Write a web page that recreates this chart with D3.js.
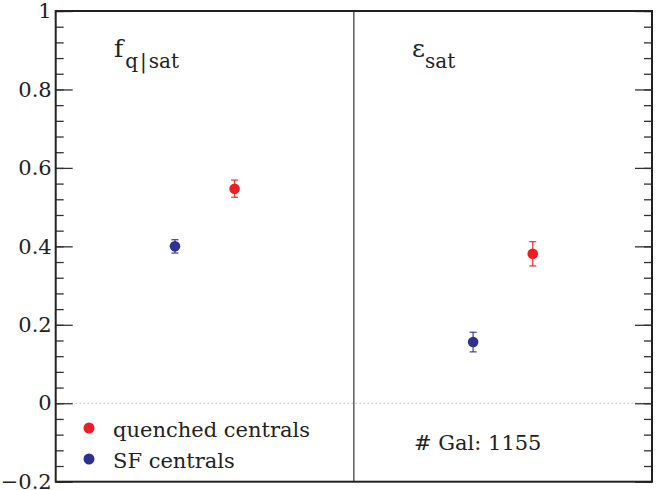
<!DOCTYPE html>
<html>
<head>
<meta charset="utf-8">
<script src="https://cdn.jsdelivr.net/npm/d3@7/dist/d3.min.js"></script>
<style>
  html, body { margin: 0; padding: 0; background: #fff; }
  svg { display: block; }
  text { font-family: "DejaVu Serif", serif; fill: #222; }
</style>
</head>
<body>
<svg id="chart" width="657" height="490"></svg>
<script>
// ---- data ----
const panels = ["fq", "esat"];
const seriesNames = ["quenched centrals", "SF centrals"];
const seriesColors = ["#ee1d24", "#2e3192"];
const seriesX = [0.6, 0.4];              // position inside each panel (0..1)
const quenchedValues = [0.547, 0.381];
const quenchedErrors = [0.022, 0.031];
const sfValues = [0.400, 0.156];
const sfErrors = [0.017, 0.025];
const majorTicks = [-0.2, 0, 0.2, 0.4, 0.6, 0.8, 1];
const minorTicks = d3.range(-0.2, 1.0001, 0.04).map(v => +v.toFixed(2));
const galCount = 1155;

// ---- layout ----
const svg = d3.select("#chart");
const mLeft = 55.7, mRight = 652, mTop = 11, mBottom = 481.7;

const y = d3.scaleLinear().domain([-0.2, 1]).range([mBottom, mTop]);
const xPanel = d3.scaleBand().domain(panels).range([mLeft, mRight]).paddingInner(0).paddingOuter(0);
const xInner = d3.scaleLinear().domain([0, 1]).range([0, xPanel.bandwidth()]);

// zero dotted line
svg.append("line")
  .attr("x1", mLeft).attr("x2", mRight)
  .attr("y1", y(0)).attr("y2", y(0))
  .attr("stroke", "#999").attr("stroke-width", 1)
  .attr("stroke-dasharray", "1,3");

// panel divider
svg.append("line")
  .attr("x1", xPanel("esat")).attr("x2", xPanel("esat"))
  .attr("y1", mTop).attr("y2", mBottom)
  .attr("stroke", "#333").attr("stroke-width", 1.2);

// left axis (ticks inward, labels outside)
const leftMinor = svg.append("g").attr("transform", `translate(${mLeft},0)`)
  .call(d3.axisLeft(y).tickValues(minorTicks).tickSize(-8).tickFormat(""));
const leftMajor = svg.append("g").attr("transform", `translate(${mLeft},0)`)
  .call(d3.axisLeft(y).tickValues(majorTicks).tickSize(-17).tickPadding(4)
    .tickFormat(d => d3.format("")(+d.toFixed(1))));
// right axis (ticks inward, no labels)
const rightMinor = svg.append("g").attr("transform", `translate(${mRight},0)`)
  .call(d3.axisRight(y).tickValues(minorTicks).tickSize(-8).tickFormat(""));
const rightMajor = svg.append("g").attr("transform", `translate(${mRight},0)`)
  .call(d3.axisRight(y).tickValues(majorTicks).tickSize(-17).tickFormat(""));

[leftMinor, leftMajor, rightMinor, rightMajor].forEach(g => {
  g.select(".domain").remove();
  g.selectAll(".tick line").attr("stroke", "#333").attr("stroke-width", 1.3);
});
leftMajor.selectAll(".tick text").attr("font-size", 21).attr("fill", "#222");

// frame
svg.append("rect")
  .attr("x", mLeft).attr("y", mTop)
  .attr("width", mRight - mLeft).attr("height", mBottom - mTop)
  .attr("fill", "none").attr("stroke", "#222").attr("stroke-width", 2);

// data points
const series = [
  { name: seriesNames[0], color: seriesColors[0], xPos: seriesX[0], values: quenchedValues, errors: quenchedErrors },
  { name: seriesNames[1], color: seriesColors[1], xPos: seriesX[1], values: sfValues, errors: sfErrors }
];
series.forEach(s => {
  const g = svg.append("g");
  panels.forEach((p, i) => {
    const cx = xPanel(p) + xInner(s.xPos);
    const v = s.values[i], e = s.errors[i];
    g.append("line").attr("x1", cx).attr("x2", cx).attr("y1", y(v - e)).attr("y2", y(v + e))
      .attr("stroke", s.color).attr("stroke-width", 1.3).attr("opacity", 0.85);
    [v - e, v + e].forEach(b => {
      g.append("line").attr("x1", cx - 3.5).attr("x2", cx + 3.5).attr("y1", y(b)).attr("y2", y(b))
        .attr("stroke", s.color).attr("stroke-width", 1.3).attr("opacity", 0.85);
    });
    g.append("circle").attr("cx", cx).attr("cy", y(v)).attr("r", 5.3).attr("fill", s.color);
  });
});

// panel titles
const t1 = svg.append("text").attr("x", 114).attr("y", 57).attr("font-size", 25);
t1.append("tspan").text("f");
t1.append("tspan").attr("dx", 2).attr("dy", 11).attr("font-size", 20).text("q\u200A|\u200Asat");

const t2 = svg.append("text").attr("x", 412).attr("y", 57).attr("font-size", 25);
t2.append("tspan").text("\u03B5");
t2.append("tspan").attr("dx", 0).attr("dy", 11).attr("font-size", 20).text("sat");

// legend
const legend = svg.append("g");
series.forEach((s, i) => {
  const ly = 428 + i * 31;
  legend.append("circle").attr("cx", 89).attr("cy", ly).attr("r", 5.5).attr("fill", s.color);
  legend.append("text").attr("x", 113).attr("y", ly + 9).attr("font-size", 21).text(s.name);
});

// galaxy count
svg.append("text").attr("x", 414).attr("y", 450).attr("font-size", 21).text("# Gal: " + galCount);
</script>
</body>
</html>
